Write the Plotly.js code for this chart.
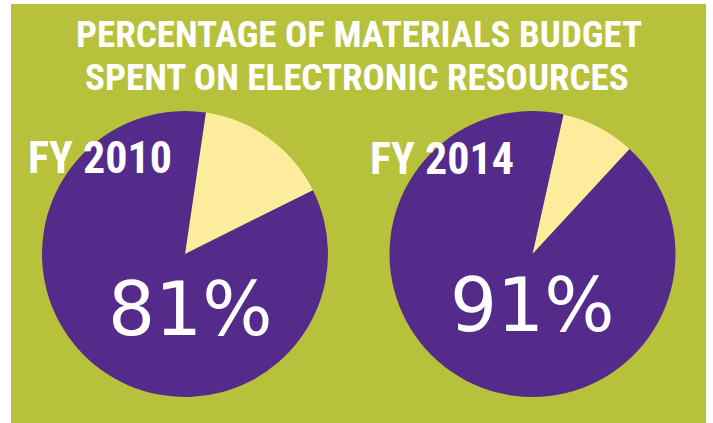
<!DOCTYPE html>
<html>
<head>
<meta charset="utf-8">
<script src="https://cdn.plot.ly/plotly-3.0.1.min.js"></script>
<style>html,body{margin:0;padding:0;background:#fff;}#chart{width:713px;height:423px;}</style>
</head>
<body>
<div id="chart"></div>
<script>
// ---- data ----
const years = ["FY 2010", "FY 2014"];
const sliceLabels = ["Other materials", "Electronic resources"];
const otherShare = [15.3, 8.4];          // yellow wedge, as drawn
const electronicShare = [84.7, 91.6];    // purple, as drawn
const shareText = ["81%", "91%"];        // printed values
const startAngle = [8.4, 12.5];          // where the yellow wedge starts (deg clockwise from 12 o'clock)
const titleLines = ["PERCENTAGE OF MATERIALS BUDGET", "SPENT ON ELECTRONIC RESOURCES"];

// ---- layout helpers ----
const W = 713, H = 423;
const px = x => x / W;
const py = y => 1 - y / H;

const purple = "#542b8a", yellow = "#fdec9b", green = "#b7c13c";
const centers = [[185, 254], [532.5, 254]];
const R = 143;

const traces = years.map((yr, i) => ({
  type: "pie",
  labels: sliceLabels,
  values: [otherShare[i], electronicShare[i]],
  sort: false,
  direction: "clockwise",
  rotation: startAngle[i],
  textinfo: "none",
  hoverinfo: "label+percent",
  showlegend: false,
  marker: { colors: [yellow, purple], line: { width: 0 } },
  domain: {
    x: [px(centers[i][0] - R), px(centers[i][0] + R)],
    y: [py(centers[i][1] + R), py(centers[i][1] - R)]
  }
}));

const cond = "'Roboto Condensed', Roboto, sans-serif";
const annotations = [];
const titleC = [[358.7, 34], [357, 77]];
titleLines.forEach((t, i) => {
  annotations.push({
    text: t, xref: "paper", yref: "paper",
    x: px(titleC[i][0]), y: py(titleC[i][1]), xanchor: "center", yanchor: "middle",
    showarrow: false,
    font: { family: cond, size: 37, color: "#fff", weight: "bold", stretch: "condensed" }
  });
});
const yrPos = [[99.5, 158], [441.7, 159]];
years.forEach((yr, i) => {
  annotations.push({
    text: yr, xref: "paper", yref: "paper",
    x: px(yrPos[i][0]), y: py(yrPos[i][1]), xanchor: "center", yanchor: "middle",
    showarrow: false,
    font: { family: cond, size: 44, color: "#fff", weight: "bold", stretch: "condensed" }
  });
});
const pctPos = [[190, 309], [532, 304.5]];
shareText.forEach((t, i) => {
  annotations.push({
    text: t, xref: "paper", yref: "paper",
    x: px(pctPos[i][0]), y: py(pctPos[i][1]), xanchor: "center", yanchor: "middle",
    showarrow: false, font: { family: "'DejaVu Sans', sans-serif", size: 74, color: "#fff" }
  });
});

const layout = {
  width: W, height: H,
  margin: { l: 0, r: 0, t: 0, b: 0 },
  paper_bgcolor: "#ffffff",
  plot_bgcolor: "rgba(0,0,0,0)",
  shapes: [{
    type: "rect", xref: "paper", yref: "paper", layer: "below",
    x0: px(11), x1: px(706), y0: 0, y1: py(4),
    fillcolor: green, line: { width: 0 }
  }],
  annotations: annotations
};

Plotly.newPlot("chart", traces, layout, { displayModeBar: false, staticPlot: true });
</script>
</body>
</html>
